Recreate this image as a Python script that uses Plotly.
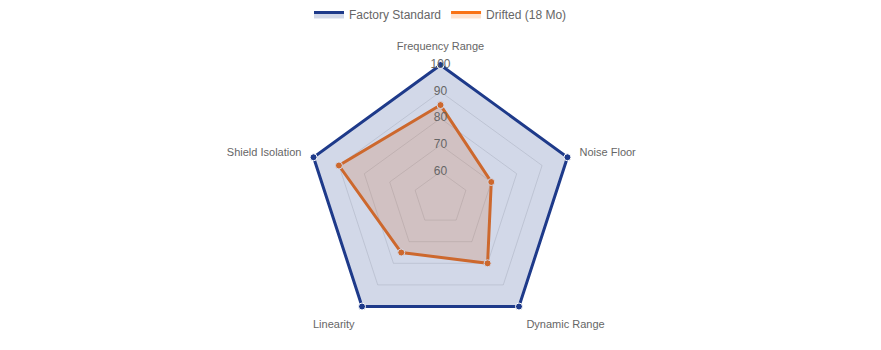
import plotly.graph_objects as go

categories = ["Frequency Range", "Noise Floor", "Dynamic Range", "Linearity", "Shield Isolation"]
factory = [100, 100, 100, 100, 100]
drifted = [85, 70, 80, 75, 90]
tick_vals = [60, 70, 80, 90, 100]
tick_text = ["60", "70", "80", "90", "100"]

FONT = "Liberation Sans, Arial, Helvetica, sans-serif"
blue = "rgb(30,58,138)"
orange = "rgb(249,115,22)"

def closed(v):
    return list(v) + [v[0]]

fig = go.Figure()
fig.add_trace(go.Scatterpolar(
    r=closed(drifted), theta=closed(categories), name="Drifted (18 Mo)",
    mode="lines+markers", fill="toself", fillcolor="rgba(249,115,22,0.2)",
    line=dict(color=orange, width=3),
    marker=dict(color=orange, size=7, line=dict(color="white", width=1)),
    cliponaxis=False, showlegend=False,
))
fig.add_trace(go.Scatterpolar(
    r=closed(factory), theta=closed(categories), name="Factory Standard",
    mode="lines+markers", fill="toself", fillcolor="rgba(30,58,138,0.2)",
    line=dict(color=blue, width=3),
    marker=dict(color=blue, size=7, line=dict(color="white", width=1)),
    cliponaxis=False, showlegend=False,
))
# legend-only swatches
fig.add_trace(go.Scatterpolar(
    r=[None], theta=[categories[0]], name="Factory Standard",
    mode="lines", fill="toself", fillcolor="rgba(30,58,138,0.2)",
    line=dict(color=blue, width=3), legendrank=1,
))
fig.add_trace(go.Scatterpolar(
    r=[None], theta=[categories[0]], name="Drifted (18 Mo)",
    mode="lines", fill="toself", fillcolor="rgba(249,115,22,0.2)",
    line=dict(color=orange, width=3), legendrank=2,
))
fig.add_trace(go.Scatterpolar(
    r=tick_vals, theta=[categories[0]] * len(tick_vals), text=tick_text,
    mode="text", textposition="middle center",
    textfont=dict(family=FONT, size=12, color="#666"),
    showlegend=False, hoverinfo="skip", cliponaxis=False,
))

fig.update_layout(
    width=881, height=350,
    margin=dict(l=0, r=0, t=60.5, b=13.5),
    paper_bgcolor="white",
    font=dict(family=FONT, color="#666", size=12),
    showlegend=True,
    legend=dict(orientation="h", x=0.5, xanchor="center", yref="container", y=1, yanchor="top",
                font=dict(size=12, color="#666"), itemclick=False),
    polar=dict(
        bgcolor="rgba(0,0,0,0)",
        gridshape="linear",
        radialaxis=dict(range=[50, 101.5], tickvals=tick_vals, showticklabels=False,
                        showline=False, ticks="", gridcolor="rgba(0,0,0,0.1)", gridwidth=1),
        angularaxis=dict(rotation=90, direction="clockwise", showgrid=False,
                         showline=False,
                         ticks="outside", ticklen=6, tickcolor="rgba(0,0,0,0)",
                         tickfont=dict(family=FONT, size=11, color="#666")),
    ),
)
fig.write_html("out.html")
